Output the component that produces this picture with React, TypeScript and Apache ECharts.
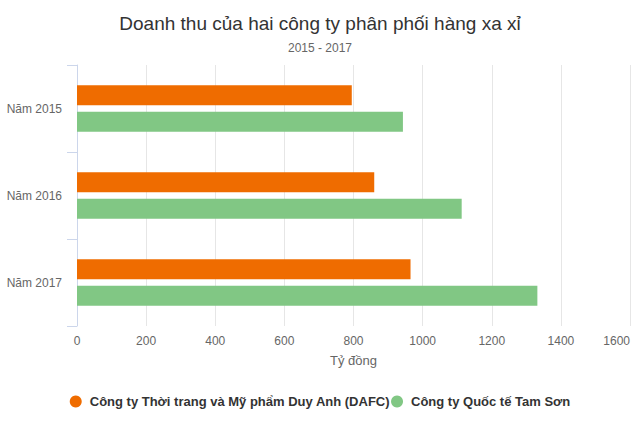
import React, { useEffect, useRef } from "react";
import * as echarts from "echarts";

const categories = ["Năm 2015", "Năm 2016", "Năm 2017"];
const seriesNames = [
  "Công ty Thời trang và Mỹ phẩm Duy Anh (DAFC)",
  "Công ty Quốc tế Tam Sơn",
];
const dafcValues = [795, 860, 965];
const tamSonValues = [943, 1113, 1332];
const titleText = "Doanh thu của hai công ty phân phối hàng xa xỉ";
const subtitleText = "2015 - 2017";
const xAxisName = "Tỷ đồng";

const FONT = "'Liberation Sans', Arial, Helvetica, sans-serif";

export default function App() {
  const ref = useRef<HTMLDivElement>(null);
  useEffect(() => {
    if (!ref.current) return;
    const chart = echarts.init(ref.current, null, { renderer: "svg" });
    chart.setOption({
      animation: false,
      backgroundColor: "#ffffff",
      textStyle: { fontFamily: FONT },
      title: [
        {
          text: titleText,
          left: "center",
          top: 9,
          textStyle: { fontSize: 19, fontWeight: "normal", color: "#333333", fontFamily: FONT },
        },
        {
          text: subtitleText,
          left: "center",
          top: 37,
          textStyle: { fontSize: 12, fontWeight: "normal", color: "#666666", fontFamily: FONT },
        },
      ],
      legend: {
        left: "center",
        top: 390,
        icon: "circle",
        itemWidth: 18,
        itemHeight: 12,
        itemGap: 1,
        textStyle: { fontSize: 13, fontWeight: "bold", color: "#333333", fontFamily: FONT },
        data: seriesNames,
      },
      grid: { left: 77, right: 10, top: 65, bottom: 101, containLabel: false },
      xAxis: {
        type: "value",
        min: 0,
        max: 1600,
        interval: 200,
        name: xAxisName,
        nameLocation: "middle",
        nameGap: 28,
        nameTextStyle: { fontSize: 13, color: "#666666", fontFamily: FONT },
        axisLine: { show: false },
        axisTick: { show: false },
        axisLabel: {
          fontSize: 12,
          color: "#666666",
          margin: 9,
          alignMaxLabel: "right",
          fontFamily: FONT,
          formatter: (v: number) => String(v),
        },
        splitLine: { show: true, lineStyle: { color: "#e6e6e6", width: 1 } },
      },
      yAxis: {
        type: "category",
        data: categories,
        inverse: true,
        axisLine: { show: true, lineStyle: { color: "#ccd6eb", width: 1 } },
        axisTick: { show: true, length: 10, lineStyle: { color: "#ccd6eb" } },
        axisLabel: { fontSize: 12, color: "#666666", margin: 15, fontFamily: FONT },
        splitLine: { show: false },
      },
      series: [
        {
          name: seriesNames[0],
          type: "bar",
          data: dafcValues,
          barWidth: 20,
          barGap: "33%",
          itemStyle: { color: "#ef6c00" },
        },
        {
          name: seriesNames[1],
          type: "bar",
          data: tamSonValues,
          barWidth: 20,
          barGap: "33%",
          itemStyle: { color: "#81c784" },
        },
      ],
    });
    return () => chart.dispose();
  }, []);
  return (
    <div
      ref={ref}
      style={{ position: "fixed", left: 0, top: 0, width: 640, height: 427 }}
    />
  );
}
